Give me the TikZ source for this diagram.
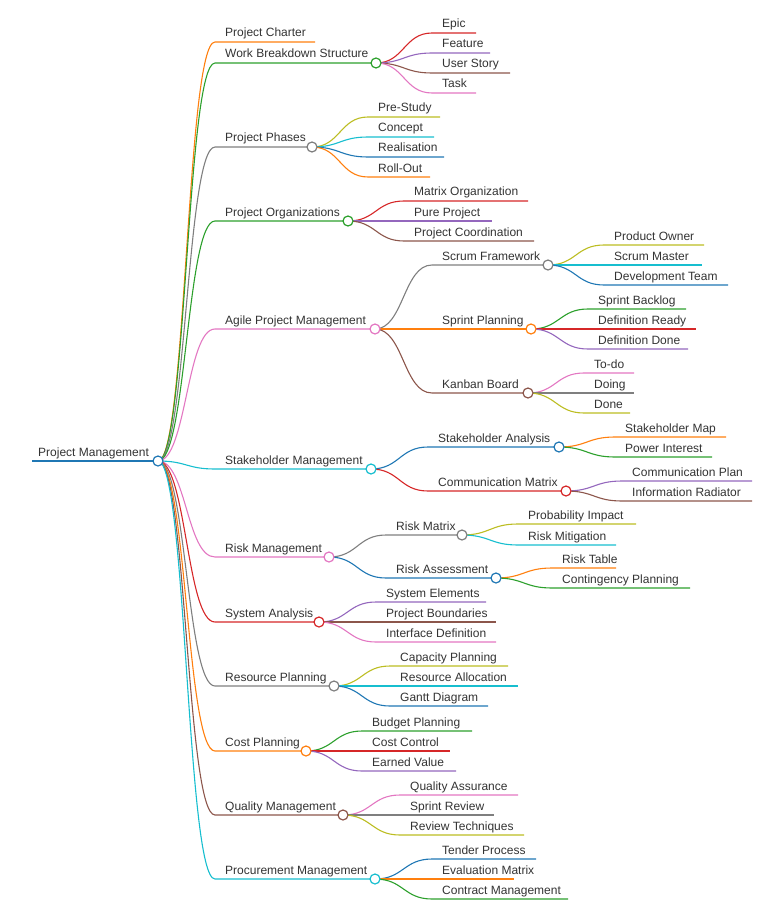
\documentclass[tikz,border=0pt]{standalone}
\usepackage{fontspec}
\setmainfont{Liberation Sans}
\usetikzlibrary{calc}
\definecolor{mmblue}{HTML}{1F77B4}
\definecolor{mmorange}{HTML}{FF7F0E}
\definecolor{mmgreen}{HTML}{2CA02C}
\definecolor{mmred}{HTML}{D62728}
\definecolor{mmpurple}{HTML}{9467BD}
\definecolor{mmbrown}{HTML}{8C564B}
\definecolor{mmpink}{HTML}{E377C2}
\definecolor{mmgray}{HTML}{7F7F7F}
\definecolor{mmolive}{HTML}{BCBD22}
\definecolor{mmcyan}{HTML}{17BECF}
\definecolor{mmtext}{HTML}{333333}
\pgfdeclarelayer{front}
\pgfsetlayers{main,front}
\tikzset{
  link/.style={line width=1.1pt},
  label/.style={anchor=base west, inner sep=0pt, text=mmtext, font=\fontsize{12}{14}\selectfont},
  hubdot/.style={circle, draw=#1, fill=white, line width=1.2pt, minimum size=10pt, inner sep=0pt}
}
% #1 name, #2 parent, #3 x start, #4 y, #5 x end, #6 colour, #7 text
\newcommand\topic[7]{%
  \coordinate (#1-s) at (#3,#4);
  \coordinate (#1) at (#5,#4);
  \draw[link,#6] let \p1=(#2), \p2=(#1-s) in
    (\p1) .. controls ({(\x1+\x2)/2},\y1) and ({(\x1+\x2)/2},\y2) .. (\p2) -- (#1);
  \node[label] (#1-t) at ($(#1-s)+(10,-5)$) {#7};
}
\newcommand\hub[7]{%
  \topic{#1}{#2}{#3}{#4}{#5}{#6}{#7}
  \begin{pgfonlayer}{front}
    \node[hubdot=#6] at (#1) {};
  \end{pgfonlayer}
}

\begin{document}
\begin{tikzpicture}[x=1pt, y=-1pt]
\useasboundingbox (0,0) rectangle (779,912);

% root
\coordinate (pm-s) at (32,461);
\coordinate (pm) at (158,461);
\draw[line width=1.8pt, mmblue] (pm-s) -- (pm);
\node[label] (pm-t) at ($(pm-s)+(6,-5)$) {Project Management};
\begin{pgfonlayer}{front}
  \node[hubdot=mmblue] at (pm) {};
\end{pgfonlayer}

% first level
\topic{charter}{pm}{215}{42}{315}{mmorange}{Project Charter}
\hub{wbs}{pm}{215}{63}{376}{mmgreen}{Work Breakdown Structure}
\hub{phases}{pm}{215}{147}{312}{mmgray}{Project Phases}
\hub{orgs}{pm}{215}{221}{348}{mmgreen}{Project Organizations}
\hub{agile}{pm}{215}{329}{375}{mmpink}{Agile Project Management}
\hub{stake}{pm}{215}{469}{371}{mmcyan}{Stakeholder Management}
\hub{risk}{pm}{215}{557}{329}{mmpink}{Risk Management}
\hub{sysan}{pm}{215}{622}{319}{mmred}{System Analysis}
\hub{resource}{pm}{215}{686}{334}{mmgray}{Resource Planning}
\hub{cost}{pm}{215}{751}{306}{mmorange}{Cost Planning}
\hub{quality}{pm}{215}{815}{343}{mmbrown}{Quality Management}
\hub{procure}{pm}{215}{879}{375}{mmcyan}{Procurement Management}

% work breakdown structure
\topic{epic}{wbs}{432}{33}{476}{mmred}{Epic}
\topic{feature}{wbs}{432}{53}{490}{mmpurple}{Feature}
\topic{story}{wbs}{432}{73}{510}{mmbrown}{User Story}
\topic{task}{wbs}{432}{93}{476}{mmpink}{Task}

% phases
\topic{prestudy}{phases}{368}{117}{440}{mmolive}{Pre-Study}
\topic{concept}{phases}{368}{137}{434}{mmcyan}{Concept}
\topic{realise}{phases}{368}{157}{444}{mmblue}{Realisation}
\topic{rollout}{phases}{368}{177}{430}{mmorange}{Roll-Out}

% organizations
\topic{matrixorg}{orgs}{404}{201}{528}{mmred}{Matrix Organization}
\topic{pure}{orgs}{404}{221}{492}{mmpurple}{Pure Project}
\topic{coord}{orgs}{404}{241}{534}{mmbrown}{Project Coordination}

% agile
\hub{scrum}{agile}{432}{265}{548}{mmgray}{Scrum Framework}
\hub{sprint}{agile}{432}{329}{531}{mmorange}{Sprint Planning}
\hub{kanban}{agile}{432}{393}{528}{mmbrown}{Kanban Board}
\topic{owner}{scrum}{604}{245}{704}{mmolive}{Product Owner}
\topic{master}{scrum}{604}{265}{702}{mmcyan}{Scrum Master}
\topic{devteam}{scrum}{604}{285}{728}{mmblue}{Development Team}
\topic{backlog}{sprint}{588}{309}{686}{mmgreen}{Sprint Backlog}
\topic{dready}{sprint}{588}{329}{696}{mmred}{Definition Ready}
\topic{ddone}{sprint}{588}{349}{688}{mmpurple}{Definition Done}
\topic{todo}{kanban}{584}{373}{634}{mmpink}{To-do}
\topic{doing}{kanban}{584}{393}{634}{mmgray}{Doing}
\topic{done}{kanban}{584}{413}{630}{mmolive}{Done}

% stakeholder
\hub{sanalysis}{stake}{428}{447}{559}{mmblue}{Stakeholder Analysis}
\hub{commatrix}{stake}{428}{491}{566}{mmred}{Communication Matrix}
\topic{smap}{sanalysis}{615}{437}{726}{mmorange}{Stakeholder Map}
\topic{power}{sanalysis}{615}{457}{712}{mmgreen}{Power Interest}
\topic{complan}{commatrix}{622}{481}{752}{mmpurple}{Communication Plan}
\topic{radiator}{commatrix}{622}{501}{752}{mmbrown}{Information Radiator}

% risk
\hub{riskmatrix}{risk}{386}{535}{462}{mmgray}{Risk Matrix}
\hub{riskassess}{risk}{386}{578}{496}{mmblue}{Risk Assessment}
\topic{probimpact}{riskmatrix}{518}{524}{636}{mmolive}{Probability Impact}
\topic{mitigation}{riskmatrix}{518}{545}{616}{mmcyan}{Risk Mitigation}
\topic{risktable}{riskassess}{552}{568}{616}{mmorange}{Risk Table}
\topic{contingency}{riskassess}{552}{588}{690}{mmgreen}{Contingency Planning}

% system analysis
\topic{elements}{sysan}{376}{602}{486}{mmpurple}{System Elements}
\topic{boundaries}{sysan}{376}{622}{496}{mmbrown}{Project Boundaries}
\topic{interface}{sysan}{376}{642}{496}{mmpink}{Interface Definition}

% resource planning
\topic{capacity}{resource}{390}{666}{508}{mmolive}{Capacity Planning}
\topic{allocation}{resource}{390}{686}{518}{mmcyan}{Resource Allocation}
\topic{gantt}{resource}{390}{706}{488}{mmblue}{Gantt Diagram}

% cost planning
\topic{budget}{cost}{362}{731}{472}{mmgreen}{Budget Planning}
\topic{costctrl}{cost}{362}{751}{450}{mmred}{Cost Control}
\topic{earned}{cost}{362}{771}{456}{mmpurple}{Earned Value}

% quality
\topic{assurance}{quality}{400}{795}{518}{mmpink}{Quality Assurance}
\topic{review}{quality}{400}{815}{494}{mmgray}{Sprint Review}
\topic{techniques}{quality}{400}{835}{524}{mmolive}{Review Techniques}

% procurement
\topic{tender}{procure}{432}{859}{536}{mmblue}{Tender Process}
\topic{evalmatrix}{procure}{432}{879}{514}{mmorange}{Evaluation Matrix}
\topic{contract}{procure}{432}{899}{568}{mmgreen}{Contract Management}

\end{tikzpicture}
\end{document}
